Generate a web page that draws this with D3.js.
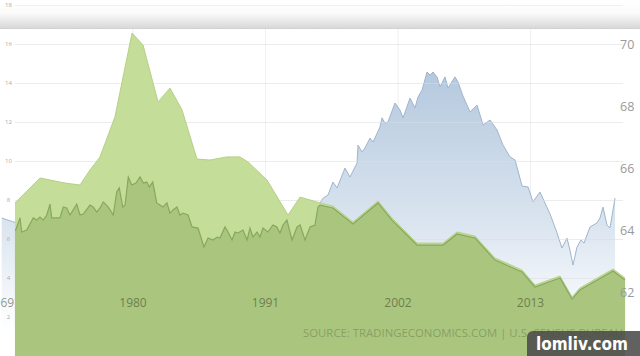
<!DOCTYPE html>
<html><head><meta charset="utf-8">
<script src="https://cdn.jsdelivr.net/npm/d3@7"></script>
<style>html,body{margin:0;padding:0;background:#fff;overflow:hidden}svg{display:block}</style>
</head><body>
<svg id="chart" width="640" height="356"></svg>
<script>
// ---------------- data ----------------
const xTickYears = [1969, 1980, 1991, 2002, 2013];
const leftTicks = [2, 4, 6, 8, 10, 12, 14, 16, 18];
const rightTicks = [62, 64, 66, 68, 70];
const sourceText = "SOURCE: TRADINGECONOMICS.COM | U.S. CENSUS BUREAU";
const watermarkText = "lomliv.com";

// light green series (left axis)
const lightYears = [1970.2,1972.28,1974.35,1975.6,1976.43,1977.26,1978.5,1979.92,1980.83,1982.08,1983.07,1984.07,1985.31,1986.39,1987.8,1988.88,1989.55,1991.12,1992.87,1993.87,1995.53,1996.6,1998.26,2000.34,2001.5,2003.58,2005.74,2006.9,2008.4,2010.05,2012.3,2013.37,2015.45,2016.45,2017.1,2019.85,2020.85];
const lightValues = [7.85,9.13,8.87,8.77,9.54,10.21,12.26,16.56,15.95,13.03,13.74,12.62,10.1,10.05,10.21,10.21,9.95,9.03,7.23,8.15,7.85,7.69,6.87,7.95,7.08,5.79,5.79,6.36,6.15,5.03,4.41,3.64,4.1,3.03,3.49,4.46,4.0];

// dark green series (left axis)
const darkYears = [1970.2,1970.26,1970.62,1970.76,1971.18,1971.72,1972.0,1972.28,1972.55,1972.84,1973.11,1973.25,1973.94,1974.21,1974.5,1974.77,1975.33,1975.6,1975.87,1976.43,1976.7,1976.99,1977.26,1977.53,1977.95,1978.36,1978.65,1978.86,1979.15,1979.34,1979.61,1979.89,1980.25,1980.58,1980.86,1981.14,1981.35,1981.64,1981.97,1982.24,1982.49,1982.82,1983.07,1983.32,1983.65,1983.9,1984.15,1984.57,1984.9,1985.4,1985.89,1986.23,1986.64,1986.98,1987.22,1987.64,1987.89,1988.22,1988.47,1988.72,1989.13,1989.47,1989.71,1989.96,1990.3,1990.54,1990.79,1991.2,1991.62,1991.95,1992.2,1992.45,1992.78,1993.2,1993.62,1993.87,1994.28,1994.7,1995.11,1995.36,1995.53,1996.6,1998.26,2000.34,2001.5,2003.58,2005.74,2006.9,2008.4,2010.05,2012.3,2013.37,2015.45,2016.45,2017.1,2019.85,2020.85];
const darkValues = [6.46,6.46,7.08,6.36,6.46,7.08,6.97,7.13,6.97,7.23,7.79,7.08,7.08,7.64,7.59,7.23,7.79,7.23,7.28,7.74,7.64,7.38,7.59,7.9,7.64,7.23,8.41,8.62,7.64,7.74,9.18,8.77,8.87,9.18,8.87,8.92,8.67,8.92,7.85,7.74,7.64,7.85,7.33,7.49,7.64,7.23,7.33,7.23,6.62,6.56,5.59,6.05,5.95,6.1,6.05,6.62,6.36,5.95,6.36,6.31,6.46,5.95,6.56,6.1,6.36,6.1,6.56,6.36,6.72,6.62,6.31,6.72,6.97,5.95,6.62,6.72,5.95,6.62,6.72,7.64,7.74,7.59,6.77,7.85,6.97,5.69,5.69,6.26,6.05,4.92,4.31,3.54,4.0,2.92,3.38,4.36,3.9];

// blue series (right axis)
const blueYears = [1969.1,1970,1971,1972,1973,1974,1975,1976,1977,1978,1979,1980,1981,1982,1983,1984,1985,1986,1987,1988,1989,1990,1991,1992,1993,1994,1995,1995.53,1995.78,1996.19,1996.6,1996.94,1997.6,1998.01,1998.6,1998.68,1999.01,1999.26,1999.68,1999.93,2000.5,2000.67,2000.92,2001.17,2001.75,2002.17,2002.42,2003.0,2003.41,2003.66,2004.0,2004.41,2004.66,2004.91,2005.24,2005.49,2005.9,2006.15,2006.73,2006.98,2007.4,2007.98,2008.56,2009.06,2009.64,2010.22,2010.72,2011.3,2011.72,2012.3,2012.8,2013.21,2013.79,2014.2,2014.62,2015.2,2015.61,2016.03,2016.27,2016.53,2016.86,2017.19,2017.44,2017.94,2018.52,2018.77,2019.02,2019.35,2019.6,2020.02];
const blueValues = [64.42,64.3,64.2,64.5,64.4,64.6,64.5,64.6,64.6,64.8,64.9,65.2,65.3,64.8,64.6,64.5,63.9,63.8,64.0,63.8,63.9,63.9,64.1,64.1,64.0,64.2,64.7,64.9,65.06,65.16,65.58,65.39,66.03,65.74,66.19,66.77,66.55,66.68,67.0,66.87,67.35,67.65,67.48,67.52,68.13,67.9,67.65,68.29,67.97,68.32,68.55,69.13,69.03,69.13,68.97,68.65,68.97,68.61,68.97,68.81,68.35,67.84,68.06,67.42,67.58,67.26,66.77,66.39,66.29,65.45,65.42,64.94,65.26,64.9,64.55,63.94,63.45,63.77,63.39,62.9,63.48,63.71,63.61,64.13,64.26,64.42,64.77,64.19,64.1,65.06];

// ---------------- chart ----------------
const W = 640, H = 356;
const svg = d3.select("#chart");
const x = d3.scaleLinear().domain([1969, 2013]).range([0.5, 530.5]);
const yL = d3.scaleLinear().domain([0, 18]).range([356, 5]);
const yR = d3.scaleLinear().domain([62, 70]).range([293, 45]);

const zip = (xs, vs) => xs.map((t, i) => ({t, v: vs[i]}));
const light = zip(lightYears, lightValues);
const dark = zip(darkYears, darkValues);
const blue = zip(blueYears, blueValues);

const defs = svg.append("defs");
const bg = defs.append("linearGradient").attr("id", "blueGrad")
  .attr("gradientUnits", "userSpaceOnUse").attr("x1", 0).attr("x2", 0)
  .attr("y1", yR(69.2)).attr("y2", 330);
bg.append("stop").attr("offset", 0).attr("stop-color", "#b4c8de");
bg.append("stop").attr("offset", 0.6).attr("stop-color", "#dbe5f0");
bg.append("stop").attr("offset", 1).attr("stop-color", "#ffffff");
const band = defs.append("linearGradient").attr("id", "bandGrad")
  .attr("x1", 0).attr("x2", 0).attr("y1", 0).attr("y2", 1);
band.append("stop").attr("offset", 0).attr("stop-color", "#ffffff");
band.append("stop").attr("offset", 0.45).attr("stop-color", "#fbfbfb");
band.append("stop").attr("offset", 1).attr("stop-color", "#d6d6d6");

// vertical grid
svg.append("g").selectAll("line").data(xTickYears.slice(1)).join("line")
  .attr("x1", d => x(d)).attr("x2", d => x(d)).attr("y1", 29).attr("y2", H)
  .attr("stroke", "#f0f0f0").attr("stroke-width", 1);

// blue area
const blueArea = d3.area().x(d => x(d.t)).y0(H).y1(d => yR(d.v));
const blueLine = d3.line().x(d => x(d.t)).y(d => yR(d.v));
svg.append("path").datum(blue).attr("d", blueArea).attr("fill", "url(#blueGrad)");
svg.append("path").datum(blue).attr("d", blueLine).attr("fill", "none")
  .attr("stroke", "#9fb5cd").attr("stroke-width", 1);

// horizontal grid (over blue)
svg.append("g").selectAll("line").data(leftTicks).join("line")
  .attr("x1", 15).attr("x2", 623).attr("y1", d => yL(d) + 0.5).attr("y2", d => yL(d) + 0.5)
  .attr("stroke", "#d8dde4").attr("stroke-opacity", 0.55).attr("stroke-width", 1);

// green areas
const gArea = d3.area().x(d => x(d.t)).y0(H).y1(d => yL(d.v));
const gLine = d3.line().x(d => x(d.t)).y(d => yL(d.v));
svg.append("path").datum(light).attr("d", gArea).attr("fill", "#c4dd98");
svg.append("path").datum(light).attr("d", gLine).attr("fill", "none")
  .attr("stroke", "#b5d186").attr("stroke-width", 1);
svg.append("path").datum(dark).attr("d", gArea).attr("fill", "#a9c57e");
svg.append("path").datum(dark).attr("d", gLine).attr("fill", "none")
  .attr("stroke", "#87a85e").attr("stroke-width", 1.2);

// top band
svg.append("rect").attr("x", 0).attr("y", 0).attr("width", W).attr("height", 29)
  .attr("fill", "url(#bandGrad)");
svg.append("line").attr("x1", 0).attr("x2", W).attr("y1", 28.5).attr("y2", 28.5)
  .attr("stroke", "#cfcfcf").attr("stroke-dasharray", "2,1");
svg.append("line").attr("x1", 15).attr("x2", 623).attr("y1", yL(18) + 0.5).attr("y2", yL(18) + 0.5)
  .attr("stroke", "#f0f0f0");

// left axis labels
svg.append("g").selectAll("text").data(leftTicks).join("text")
  .attr("x", 8.5).attr("y", d => yL(d)).attr("dy", "0.35em")
  .attr("text-anchor", "middle").attr("font-family", "Open Sans, sans-serif")
  .attr("font-size", 6).attr("fill", "#aaaaaa").text(d => d);

// right axis labels
svg.append("g").selectAll("text").data(rightTicks).join("text")
  .attr("x", 620).attr("y", d => yR(d)).attr("dy", "0.35em")
  .attr("font-family", "Open Sans, sans-serif").attr("font-size", 12.5)
  .attr("fill", "#9a9a9a").text(d => d);

// x labels
svg.append("g").selectAll("text").data(xTickYears).join("text")
  .attr("x", d => x(d)).attr("y", 307).attr("text-anchor", "middle")
  .attr("font-family", "Open Sans, sans-serif").attr("font-size", 12)
  .attr("fill", "rgba(55,62,35,0.55)").text(d => d);

// source
svg.append("text").attr("x", 303).attr("y", 337)
  .attr("font-family", "Open Sans, sans-serif").attr("font-size", 11)
  .attr("textLength", 320).attr("lengthAdjust", "spacingAndGlyphs")
  .attr("fill", "rgba(80,92,50,0.38)").text(sourceText);

// watermark
svg.append("rect").attr("x", 527).attr("y", 331).attr("width", 120).attr("height", 32)
  .attr("rx", 6).attr("fill", "#4b4b4b").attr("fill-opacity", 0.88);
svg.append("text").attr("x", 536).attr("y", 350)
  .attr("font-family", "DejaVu Sans, sans-serif").attr("font-weight", "bold").attr("font-size", 17)
  .attr("textLength", 92).attr("lengthAdjust", "spacingAndGlyphs")
  .attr("fill", "#ffffff").text(watermarkText);
</script>
</body></html>
